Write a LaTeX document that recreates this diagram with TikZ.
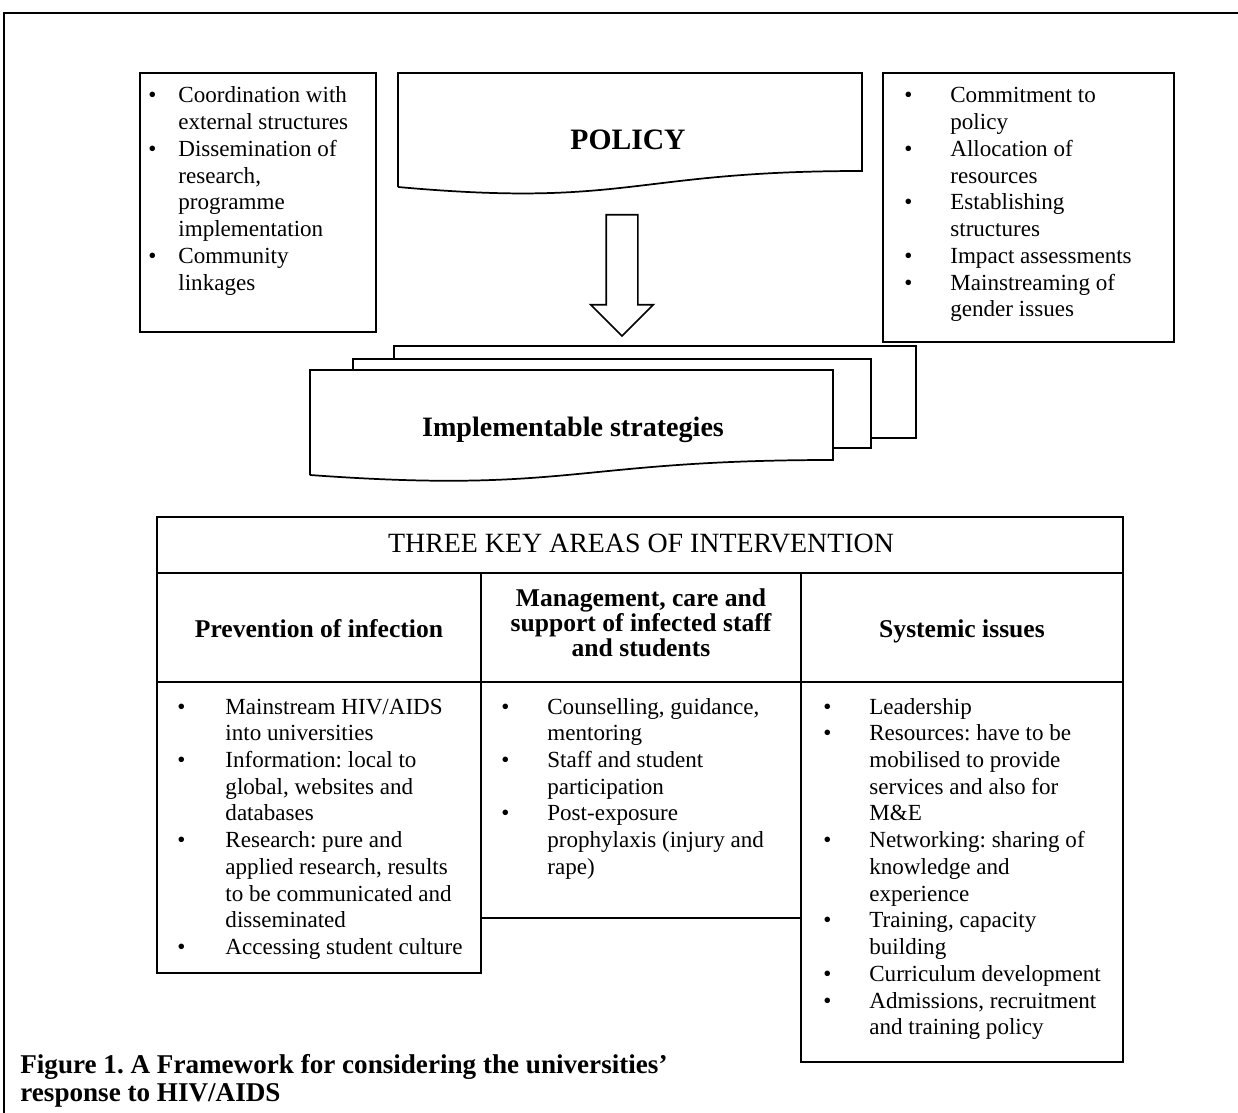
\documentclass[tikz,border=0pt]{standalone}
\usepackage{fontspec}
\setmainfont{Liberation Serif}
\usepackage{array}
\usetikzlibrary{positioning, fit, shapes.arrows}
\frenchspacing

\newcommand{\bodysize}{\fontsize{12}{13.9}\selectfont}
\newcommand{\headsize}{\fontsize{13.3}{13}\selectfont}
\newcommand{\bulletlist}[2]{\begin{tabular}[t]{@{}p{#1}@{}l@{}}#2\end{tabular}}

\begin{document}
\begin{tikzpicture}[
    x=0.52pt, y=-0.52pt,
    every node/.style={inner sep=0pt},
    panel/.style={draw, line width=0.9pt, fill=white, inner sep=0pt},
    listtext/.style={anchor=base west, font=\bodysize},
    headtext/.style={anchor=base, font=\headsize\bfseries},
    flowarrow/.style={draw, line width=0.9pt, fill=white, single arrow, rotate=-90,
      minimum height=63pt, inner xsep=0pt, inner ysep=7.8pt, single arrow head extend=8pt}
  ]
  \useasboundingbox (0,0) rectangle (1238,1113);

  % Frame
  \draw[line width=1pt] (4,1125) -- (4,13) -- (1250,13);

  % Side boxes
  \node[panel, fit={(140,73) (376,332)}] (linkbox) {};
  \node[panel, fit={(883,73) (1174,342)}] (commitbox) {};
  \node[listtext] (linktext) at (148,103) {\bulletlist{15.6pt}{%
    \textbullet & Coordination with\\
                & external structures\\
    \textbullet & Dissemination of\\
                & research,\\
                & programme\\
                & implementation\\
    \textbullet & Community\\
                & linkages}};
  \node[listtext] (committext) at (904,103) {\bulletlist{23.9pt}{%
    \textbullet & Commitment to\\
                & policy\\
    \textbullet & Allocation of\\
                & resources\\
    \textbullet & Establishing\\
                & structures\\
    \textbullet & Impact assessments\\
    \textbullet & Mainstreaming of\\
                & gender issues}};

  % Policy document and arrow
  \draw[panel] (398,187) -- (398,73) -- (862,73) -- (862,171)
    .. controls (630,171) and (630,208) .. (398,187);
  \node[anchor=base, font=\fontsize{15.4}{16}\selectfont\bfseries] (policy) at (628,150) {POLICY};
  \node[flowarrow] (policyarrow) at (622,267.5) {};

  % Stacked strategies
  \node[panel, fit={(394,346) (916,438)}] (stackback) {};
  \node[panel, fit={(353,359) (871,448)}] (stackmid) {};
  \draw[panel] (310,475) -- (310,370) -- (833,370) -- (833,460)
    .. controls (571,460) and (571,494) .. (310,475);
  \node[anchor=base, font=\fontsize{14.6}{16}\selectfont\bfseries] (strategies) at (573,436) {Implementable strategies};

  % Areas of intervention
  \node[panel, fit={(157,517) (1123,573)}] (titlecell) {};
  \node[anchor=base, font=\fontsize{14.5}{16}\selectfont] (title) at (641,552) {THREE KEY AREAS OF INTERVENTION};

  \node[panel, fit={(157,573) (481,682)}] (prevhead) {};
  \node[panel, fit={(481,573) (801,682)}] (carehead) {};
  \node[panel, fit={(801,573) (1123,682)}] (syshead) {};
  \node[headtext] (prevtitle) at (319,637) {Prevention of infection};
  \node[headtext] (caretitle) at (641,606) {\begin{tabular}[t]{@{}c@{}}Management, care and\\support of infected staff\\and students\end{tabular}};
  \node[headtext] (systitle) at (962,637) {Systemic issues};

  \node[panel, fit={(157,682) (481,973)}] (prevbody) {};
  \node[panel, fit={(481,682) (801,918)}] (carebody) {};
  \node[panel, fit={(801,682) (1123,1062)}] (sysbody) {};
  \node[listtext] (prevlist) at (177,714) {\bulletlist{25pt}{%
    \textbullet & Mainstream HIV/AIDS\\
                & into universities\\
    \textbullet & Information: local to\\
                & global, websites and\\
                & databases\\
    \textbullet & Research: pure and\\
                & applied research, results\\
                & to be communicated and\\
                & disseminated\\
    \textbullet & Accessing student culture}};
  \node[listtext] (carelist) at (501,714) {\bulletlist{23.9pt}{%
    \textbullet & Counselling, guidance,\\
                & mentoring\\
    \textbullet & Staff and student\\
                & participation\\
    \textbullet & Post-exposure\\
                & prophylaxis (injury and\\
                & rape)}};
  \node[listtext] (syslist) at (823,714) {\bulletlist{23.9pt}{%
    \textbullet & Leadership\\
    \textbullet & Resources: have to be\\
                & mobilised to provide\\
                & services and also for\\
                & M\&E\\
    \textbullet & Networking: sharing of\\
                & knowledge and\\
                & experience\\
    \textbullet & Training, capacity\\
                & building\\
    \textbullet & Curriculum development\\
    \textbullet & Admissions, recruitment\\
                & and training policy}};

  % Caption
  \node[anchor=base west, font=\fontsize{14.1}{14.6}\selectfont\bfseries] (caption) at (20,1073)
    {\begin{tabular}[t]{@{}l@{}}Figure 1. A Framework for considering the universities’\\response to HIV/AIDS\end{tabular}};
\end{tikzpicture}
\end{document}
